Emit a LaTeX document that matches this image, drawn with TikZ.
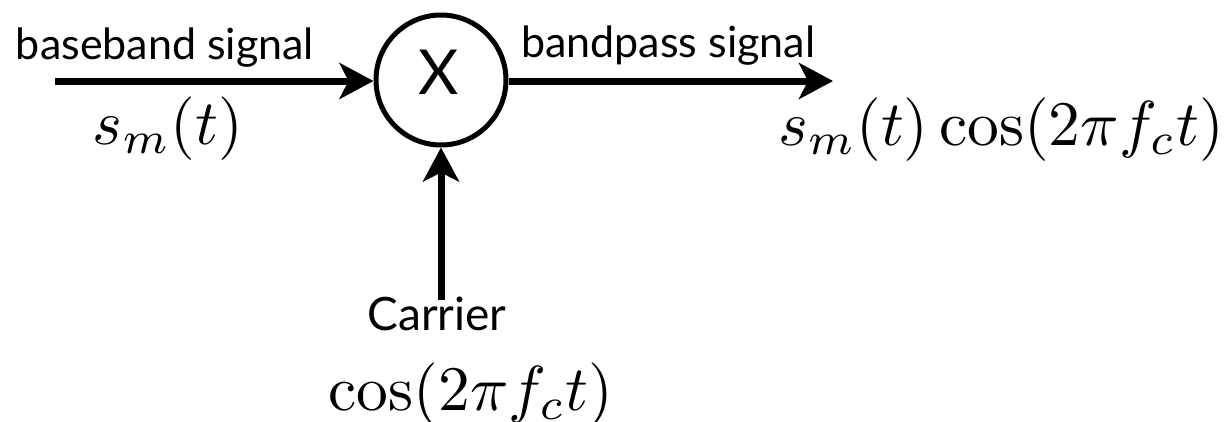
\documentclass[tikz,border=0pt]{standalone}
\usepackage{fontspec}
\setsansfont{Lato}
\usetikzlibrary{arrows.meta}
\begin{document}
\begin{tikzpicture}[x=1pt,y=-1pt,
  sig/.style={line width=7pt, -{Stealth[length=34pt,width=36pt,inset=9pt]}},
  lab/.style={font=\sffamily\fontsize{43}{48}\selectfont, inner sep=0pt},
  mth/.style={scale=6.35, inner sep=0pt}]
\useasboundingbox (0,0) rectangle (1232,421);
\node[circle, draw, line width=5pt, minimum size=130pt, inner sep=0pt] (mult) at (441,80) {};
\node[font=\sffamily\fontsize{62}{66}\selectfont, inner sep=0pt] (xsym) at (439,72) {X};
\coordinate (in) at (55,81);
\coordinate (out) at (833,81);
\coordinate (car) at (441,300);
\draw[sig] (in) -- (mult.west |- in);
\draw[sig] (mult.east |- out) -- (out);
\draw[sig] (car) -- (mult.south);
\node[lab, anchor=base] (bb) at (165,59) {baseband signal};
\node[lab, anchor=base west] (bp) at (521,57) {bandpass signal};
\node[lab, anchor=base, font=\sffamily\fontsize{46}{50}\selectfont] (cr) at (437,330) {Carrier};
\node[mth, anchor=base] (sm) at (168,144) {$s_m(t)$};
\node[mth, anchor=base east] (smc) at (1225,145) {$s_m(t)\cos(2\pi f_c t)$};
\node[mth, anchor=base] (cs) at (471,410) {$\cos(2\pi f_c t)$};
\end{tikzpicture}
\end{document}
